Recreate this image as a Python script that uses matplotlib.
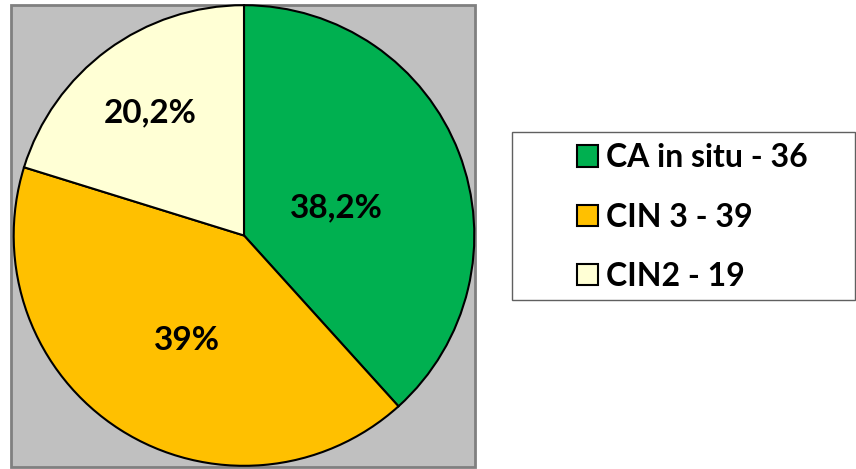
import matplotlib.pyplot as plt
from matplotlib.patches import Rectangle
import numpy as np

# data
categories = ["CA in situ", "CIN 3", "CIN2"]
counts = [36, 39, 19]
pct_labels = ["38,2%", "39%", "20,2%"]

colors = ["#00B050", "#FFC000", "#FFFFD5"]
label_radius = [0.42, 0.52, 0.67]
label_turn = [-4.5, 4.0, 1.0]

plt.rcParams['font.family'] = ['Lato', 'DejaVu Sans']
plt.rcParams['font.weight'] = 'bold'

W, H = 856, 469
fig = plt.figure(figsize=(W / 100, H / 100), dpi=100)

def fx(x):
    return x / W

def fy(y):
    return 1 - y / H

# grey plot area
fig.patches.append(Rectangle((fx(11), fy(467)), fx(475) - fx(11), fy(5) - fy(467),
                             transform=fig.transFigure, facecolor="#C0C0C0",
                             edgecolor="#808080", linewidth=2, zorder=-2))

# legend frame
fig.patches.append(Rectangle((fx(512), fy(300)), fx(855) - fx(512), fy(132) - fy(300),
                             transform=fig.transFigure, facecolor="white",
                             edgecolor="#606060", linewidth=1, zorder=-2))

ax = fig.add_axes([fx(13), fy(466.5), 462 / W, 462 / H])
ax.set_zorder(1)
ax.patch.set_visible(False)
wedges, _ = ax.pie(counts, colors=colors, startangle=90, counterclock=False,
                   radius=1.0, wedgeprops=dict(edgecolor="black", linewidth=1.5))
ax.set_xlim(-1.003, 1.003)
ax.set_ylim(-1.003, 1.003)
ax.set_aspect("equal")
ax.axis("off")

for w, txt, r, t in zip(wedges, pct_labels, label_radius, label_turn):
    ang = np.deg2rad((w.theta1 + w.theta2) / 2 + t)
    ax.text(r * np.cos(ang), r * np.sin(ang), txt, ha="center", va="center",
            fontsize=24, fontweight="bold", color="black")

legend_labels = [f"{c} - {n}" for c, n in zip(categories, counts)]
leg = fig.legend(wedges, legend_labels, loc="center left",
                 bbox_to_anchor=(fx(548), fy(217)), frameon=False,
                 fontsize=23, handlelength=0.65, handleheight=0.65,
                 handletextpad=0.25, labelspacing=0.95)
leg.set_zorder(2)

fig.savefig("out.png", dpi=100)
